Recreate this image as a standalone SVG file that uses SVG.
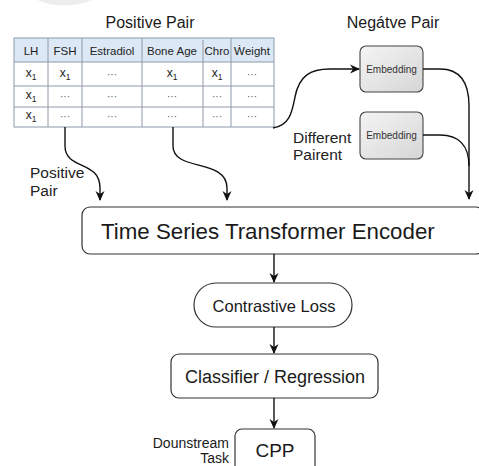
<svg xmlns="http://www.w3.org/2000/svg" width="479" height="466" viewBox="0 0 479 466">
<defs>
<marker id="ah" markerWidth="10" markerHeight="10" refX="9" refY="5" orient="auto" markerUnits="userSpaceOnUse">
<path d="M0,0.5 L10,5 L0,9.5 L3,5 Z" fill="#111"/>
</marker>
<linearGradient id="eg" x1="0" y1="0" x2="1" y2="1">
<stop offset="0" stop-color="#f4f4f4"/>
<stop offset="1" stop-color="#d6d6d6"/>
</linearGradient>
<style>
text{font-family:"Liberation Sans",Arial,sans-serif;fill:#1a1a1a}
.grid{stroke:#8e9aa8;stroke-width:1;fill:none}
.hd{font-size:11.5px;text-anchor:middle;fill:#222}
.cell{font-size:12px;text-anchor:middle;fill:#222}
.dots{font-size:10px;text-anchor:middle;fill:#555}
.emb{fill:url(#eg);stroke:#444;stroke-width:1.1}
.embt{font-size:10px;text-anchor:middle;fill:#333}
.box{fill:#fff;stroke:#333;stroke-width:1.2}
.conn{fill:none;stroke:#111;stroke-width:1.4}
.lbl{font-size:15.5px;fill:#222}
</style>
</defs>
<rect width="479" height="466" fill="#fff"/>
<path d="M37 0 Q64 11 92 0 Z" fill="#ededed"/>

<g id="positive-title"><text x="150" y="28" font-size="16" text-anchor="middle">Positive Pair</text></g>
<g id="negative-title"><text x="393" y="28" font-size="16" text-anchor="middle">Negátve Pair</text></g>

<g id="table">
<rect x="14" y="38" width="260" height="24" fill="#dce8f5"/>
<rect x="14" y="38" width="260" height="89" class="grid"/>
<path class="grid" d="M14 62H274M14 86H274M14 107H274M48 38V127M82 38V127M142 38V127M203 40V127M231 38V127"/>
<text class="hd" x="31" y="55">LH</text>
<text class="hd" x="65" y="55">FSH</text>
<text class="hd" x="112" y="55">Estradiol</text>
<text class="hd" x="172" y="55">Bone Age</text>
<text class="hd" x="217" y="55">Chro</text>
<text class="hd" x="252" y="55">Ẇeight</text>
<text class="cell" x="31" y="77">x<tspan font-size="8.5" dy="3">1</tspan></text>
<text class="cell" x="65" y="77">x<tspan font-size="8.5" dy="3">1</tspan></text>
<text class="dots" x="112" y="78">···</text>
<text class="cell" x="172" y="77">x<tspan font-size="8.5" dy="3">1</tspan></text>
<text class="cell" x="217" y="77">x<tspan font-size="8.5" dy="3">1</tspan></text>
<text class="dots" x="252" y="78">···</text>
<text class="cell" x="31" y="99">x<tspan font-size="8.5" dy="3">1</tspan></text>
<text class="dots" x="65" y="100">···</text>
<text class="dots" x="112" y="100">···</text>
<text class="dots" x="172" y="100">···</text>
<text class="dots" x="217" y="100">···</text>
<text class="dots" x="252" y="100">···</text>
<text class="cell" x="31" y="119">x<tspan font-size="8.5" dy="3">1</tspan></text>
<text class="dots" x="65" y="120">···</text>
<text class="dots" x="112" y="120">···</text>
<text class="dots" x="172" y="120">···</text>
<text class="dots" x="217" y="120">···</text>
<text class="dots" x="252" y="120">···</text>
</g>

<g id="embedding1"><rect class="emb" x="360" y="46" width="63" height="46" rx="6"/><text class="embt" x="391.5" y="73">Embedding</text></g>
<g id="embedding2"><rect class="emb" x="360" y="112" width="63" height="47" rx="6"/><text class="embt" x="391.5" y="139">Embedding</text></g>

<g id="labels">
<text class="lbl" x="293" y="143">Different</text>
<text class="lbl" x="293" y="160">Pairent</text>
<text class="lbl" x="30" y="178">Positive</text>
<text class="lbl" x="30" y="196">Pair</text>
</g>

<g id="encoder"><rect class="box" x="82" y="207" width="402" height="47" rx="8"/><text x="101" y="239" font-size="22.3">Time Series Transformer Encoder</text></g>
<g id="contrastive-loss"><rect class="box" x="194" y="283" width="158" height="44" rx="22"/><text x="274" y="312" font-size="16.5" text-anchor="middle">Contrastive Loss</text></g>
<g id="classifier"><rect class="box" x="171" y="354" width="207" height="44" rx="8"/><text x="275" y="383" font-size="18" text-anchor="middle">Classifier / Regression</text></g>
<g id="cpp"><rect class="box" x="235" y="429" width="80" height="50" rx="7"/><text x="275" y="457" font-size="19" text-anchor="middle">CPP</text>
<text x="229" y="448" font-size="14" text-anchor="end">Dounstream</text>
<text x="229" y="463" font-size="14" text-anchor="end">Task</text></g>

<g id="connectors">
<path class="conn" marker-end="url(#ah)" d="M273 128 C290 125 292 112 295 97 C299 76 310 69 330 69 L359 69"/>
<path class="conn" marker-end="url(#ah)" d="M423 69 L440 69 C461 69 469 84 469 106 L469 199"/>
<path class="conn" d="M423 135 L440 135 C459 135 469 146 469 166"/>
<path class="conn" marker-end="url(#ah)" d="M65 127 L65 146 C65 170 100 160 100 188 L100 200"/>
<path class="conn" marker-end="url(#ah)" d="M173 127 L173 146 C173 172 227 158 227 188 L227 200"/>
<path class="conn" marker-end="url(#ah)" d="M274 254 L274 282"/>
<path class="conn" marker-end="url(#ah)" d="M274 327 L274 353"/>
<path class="conn" marker-end="url(#ah)" d="M274 398 L274 428"/>
</g>
</svg>
